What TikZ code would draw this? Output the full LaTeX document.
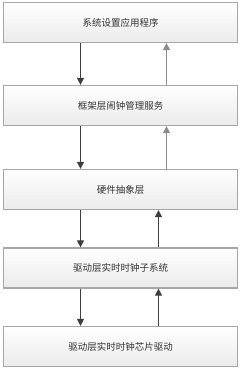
\documentclass[tikz,border=0pt]{standalone}
\usepackage{fontspec}
\newfontfamily\cjk{Noto Sans CJK SC}
\usepackage{tikz}
\usetikzlibrary{arrows.meta, positioning, shadings}
\definecolor{boxline}{HTML}{A6A6A6}
\definecolor{boxtop}{HTML}{FFFFFF}
\definecolor{boxbottom}{HTML}{EBEBEB}
\definecolor{darkarrow}{HTML}{3F3F3F}
\definecolor{lightarrow}{HTML}{8C8C8C}
\definecolor{txt}{HTML}{333333}
\tikzset{
  layerbox/.style={draw=boxline, line width=1.2pt, top color=boxtop, bottom color=boxbottom,
    minimum width=234pt, minimum height=40pt, inner sep=0pt, text=txt,
    font=\cjk\fontsize{9.5pt}{11pt}\selectfont},
  dnarrow/.style={darkarrow, line width=1.1pt, -{Triangle[length=7pt, width=7pt]}},
  uparrow/.style={lightarrow, line width=0.9pt, -{Triangle[length=7pt, width=7pt]}},
  upstrong/.style={darkarrow, line width=1.1pt, -{Triangle[length=7pt, width=7pt]}}
}
\begin{document}
\begin{tikzpicture}[x=1pt, y=-1pt]
  \useasboundingbox (0,0) rectangle (242,372);
  % Couches
  \node[layerbox] (app)  at (120.5,22.5)  {系统设置应用程序};
  \node[layerbox] (fw)   at (120.5,105.5) {框架层闹钟管理服务};
  \node[layerbox] (hal)  at (120.5,189.5) {硬件抽象层};
  \node[layerbox] (rtc)  at (120.5,268)   {驱动层实时时钟子系统};
  \node[layerbox] (chip) at (120.5,346.5) {驱动层实时时钟芯片驱动};
  % Positions des flèches
  \coordinate (dn)  at (80.5,0);
  \coordinate (upA) at (166.5,0);
  \coordinate (upB) at (158.5,0);
  % Flèches descendantes
  \draw[dnarrow] (app.south -| dn) -- (fw.north -| dn);
  \draw[dnarrow] (fw.south -| dn) -- (hal.north -| dn);
  \draw[dnarrow] (hal.south -| dn) -- (rtc.north -| dn);
  \draw[dnarrow] (rtc.south -| dn) -- (chip.north -| dn);
  % Flèches montantes
  \draw[uparrow] (fw.north -| upA) -- (app.south -| upA);
  \draw[uparrow] (hal.north -| upA) -- (fw.south -| upA);
  \draw[upstrong] (rtc.north -| upB) -- (hal.south -| upB);
  \draw[upstrong] (chip.north -| upB) -- (rtc.south -| upB);
\end{tikzpicture}
\end{document}
